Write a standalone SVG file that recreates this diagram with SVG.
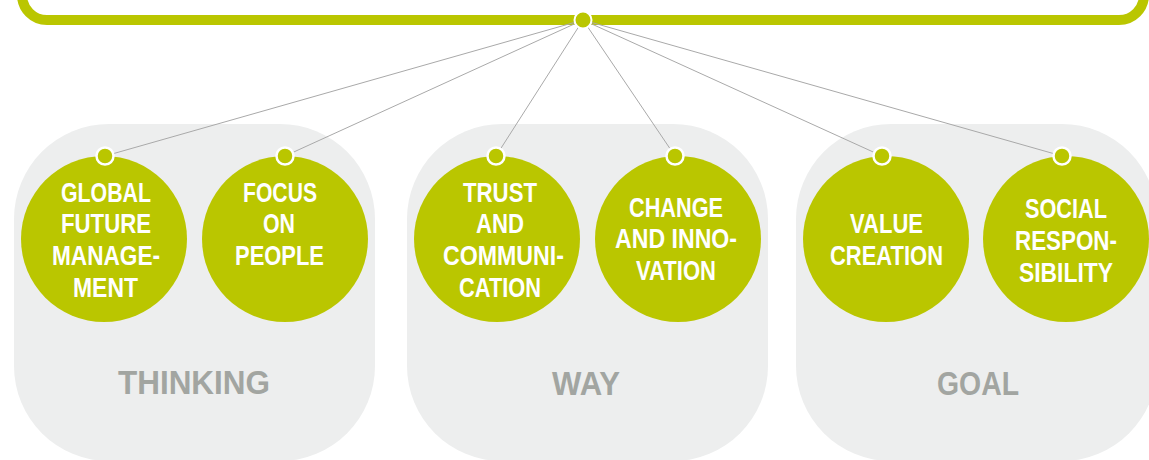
<svg xmlns="http://www.w3.org/2000/svg" width="1149" height="460" viewBox="0 0 1149 460">
<style>
.panel{fill:#edeeee}
.big{fill:#bac600}
.dot{fill:#bac600;stroke:#ffffff;stroke-width:2.5}
.t{font-family:"Liberation Sans",Arial,sans-serif;font-weight:bold;font-size:28px;fill:#ffffff;text-anchor:middle}
.lbl{font-family:"Liberation Sans",Arial,sans-serif;font-weight:bold;font-size:33px;fill:#a2a5a1;text-anchor:middle}
.conn{stroke:#a9a9a9;stroke-width:1;fill:none}
</style>
<rect x="0" y="0" width="1149" height="460" fill="#ffffff"/>
<g id="frame">
<rect x="22" y="-100" width="1122" height="120" rx="25" ry="25" fill="none" stroke="#bac600" stroke-width="10"/>
</g>
<g id="panel-thinking">
<rect class="panel" x="14" y="124" width="361" height="337" rx="95" ry="95"/>
<text class="lbl" x="194" y="394" textLength="152" lengthAdjust="spacingAndGlyphs">THINKING</text>
</g>
<g id="panel-way">
<rect class="panel" x="407" y="124" width="361" height="337" rx="95" ry="95"/>
<text class="lbl" x="586" y="395" textLength="68" lengthAdjust="spacingAndGlyphs">WAY</text>
</g>
<g id="panel-goal">
<rect class="panel" x="796" y="124" width="361" height="337" rx="95" ry="95"/>
<text class="lbl" x="978" y="395" textLength="82" lengthAdjust="spacingAndGlyphs">GOAL</text>
</g>
<g id="connectors">
<line class="conn" x1="583" y1="20" x2="105" y2="156"/>
<line class="conn" x1="583" y1="20" x2="285" y2="156"/>
<line class="conn" x1="583" y1="20" x2="496" y2="156"/>
<line class="conn" x1="583" y1="20" x2="675" y2="156"/>
<line class="conn" x1="583" y1="20" x2="882" y2="156"/>
<line class="conn" x1="583" y1="20" x2="1062" y2="156"/>
</g>
<g id="hub">
<circle cx="583" cy="20" r="8.5" fill="#bac600" stroke="#ffffff" stroke-width="2"/>
</g>
<g id="node-global">
<circle class="big" cx="104" cy="239" r="83"/>
<circle class="dot" cx="105" cy="156" r="8.5"/>
<text class="t" x="106" y="202" textLength="90" lengthAdjust="spacingAndGlyphs">GLOBAL</text>
<text class="t" x="106" y="233" textLength="90" lengthAdjust="spacingAndGlyphs">FUTURE</text>
<text class="t" x="106" y="265" textLength="108" lengthAdjust="spacingAndGlyphs">MANAGE-</text>
<text class="t" x="105.5" y="297" textLength="65" lengthAdjust="spacingAndGlyphs">MENT</text>
</g>
<g id="node-focus">
<circle class="big" cx="285" cy="239" r="83"/>
<circle class="dot" cx="285" cy="156" r="8.5"/>
<text class="t" x="280" y="202" textLength="74" lengthAdjust="spacingAndGlyphs">FOCUS</text>
<text class="t" x="279" y="233" textLength="32" lengthAdjust="spacingAndGlyphs">ON</text>
<text class="t" x="279.5" y="265" textLength="89" lengthAdjust="spacingAndGlyphs">PEOPLE</text>
</g>
<g id="node-trust">
<circle class="big" cx="497" cy="239" r="83"/>
<circle class="dot" cx="496" cy="156" r="8.5"/>
<text class="t" x="500" y="202" textLength="74" lengthAdjust="spacingAndGlyphs">TRUST</text>
<text class="t" x="500" y="233" textLength="48" lengthAdjust="spacingAndGlyphs">AND</text>
<text class="t" x="503.5" y="265" textLength="121" lengthAdjust="spacingAndGlyphs">COMMUNI-</text>
<text class="t" x="500" y="297" textLength="82" lengthAdjust="spacingAndGlyphs">CATION</text>
</g>
<g id="node-change">
<circle class="big" cx="678" cy="239" r="83"/>
<circle class="dot" cx="675" cy="156" r="8.5"/>
<text class="t" x="676" y="217" textLength="94" lengthAdjust="spacingAndGlyphs">CHANGE</text>
<text class="t" x="676" y="248" textLength="122" lengthAdjust="spacingAndGlyphs">AND INNO-</text>
<text class="t" x="676" y="280" textLength="80" lengthAdjust="spacingAndGlyphs">VATION</text>
</g>
<g id="node-value">
<circle class="big" cx="886" cy="239" r="83"/>
<circle class="dot" cx="882" cy="156" r="8.5"/>
<text class="t" x="886.5" y="233" textLength="73" lengthAdjust="spacingAndGlyphs">VALUE</text>
<text class="t" x="886.5" y="265" textLength="113" lengthAdjust="spacingAndGlyphs">CREATION</text>
</g>
<g id="node-social">
<circle class="big" cx="1066" cy="239" r="83"/>
<circle class="dot" cx="1062" cy="156" r="8.5"/>
<text class="t" x="1066" y="218" textLength="82" lengthAdjust="spacingAndGlyphs">SOCIAL</text>
<text class="t" x="1066" y="250" textLength="102" lengthAdjust="spacingAndGlyphs">RESPON-</text>
<text class="t" x="1066" y="282" textLength="94" lengthAdjust="spacingAndGlyphs">SIBILITY</text>
</g>
</svg>
